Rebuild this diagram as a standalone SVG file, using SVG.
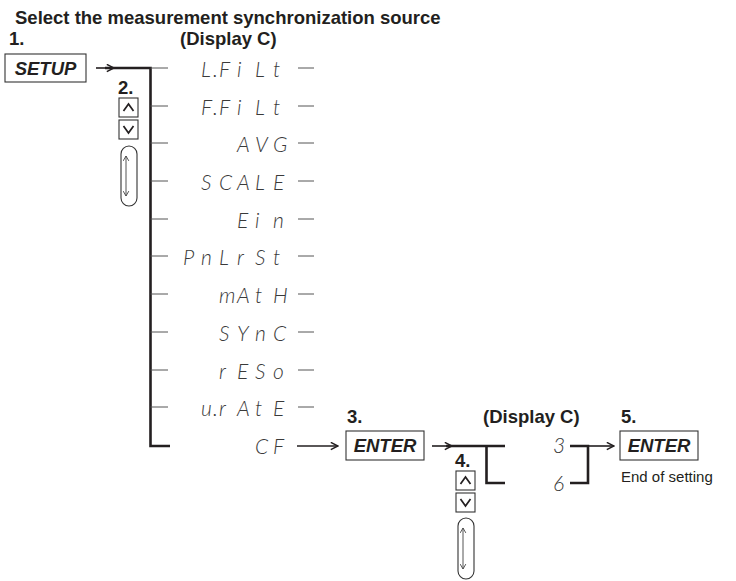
<svg xmlns="http://www.w3.org/2000/svg" width="736" height="581" viewBox="0 0 736 581">
<style>
.b{font-family:"Liberation Sans",Arial,sans-serif;font-weight:bold;fill:#231f20}
.lbl{font-size:18.5px}
.key{font-size:18.5px;font-style:italic;text-anchor:middle}
.reg{font-family:"Liberation Sans",Arial,sans-serif;font-size:15px;fill:#231f20}
.seg{font-family:Lato,Roboto,"Liberation Sans",sans-serif;font-weight:300;font-style:italic;font-size:21px;fill:#3a3a3a}
.box{fill:#fff;stroke:#333;stroke-width:1.1}
.thick{fill:none;stroke:#231f20;stroke-width:2.6}
.thin{fill:none;stroke:#555;stroke-width:1}
.arr{fill:none;stroke:#231f20;stroke-width:1.6}
.chev{fill:none;stroke:#231f20;stroke-width:1.7}
.loop{fill:#fff;stroke:#333;stroke-width:1.1}
.dbl{fill:none;stroke:#555;stroke-width:1}
</style>
<defs>
<marker id="ah" viewBox="0 0 10 10" refX="9" refY="5" markerWidth="9" markerHeight="9" markerUnits="userSpaceOnUse" orient="auto">
<polyline points="1,1 9,5 1,9" fill="none" stroke="#231f20" stroke-width="1.7"/>
</marker>
<marker id="sh" viewBox="0 0 10 10" refX="9" refY="5" markerWidth="7" markerHeight="7" markerUnits="userSpaceOnUse" orient="auto-start-reverse">
<polyline points="2,1 9,5 2,9" fill="none" stroke="#444" stroke-width="1.3"/>
</marker>
</defs>

<g id="title"><text class="b lbl" x="15" y="24">Select the measurement synchronization source</text></g>

<g id="step1">
<text class="b lbl" x="9" y="45">1.</text>
<rect class="box" x="5" y="54" width="81" height="28"/>
<text class="b key" x="45.5" y="74.5">SETUP</text>
</g>

<g id="display-c-1"><text class="b lbl" x="180" y="45">(Display C)</text></g>

<g id="step2">
<text class="b lbl" x="118" y="94">2.</text>
<rect class="box" x="119" y="98" width="19" height="19"/>
<polyline class="chev" points="123.5,111 128.5,104 133.5,111"/>
<rect class="box" x="119" y="120" width="19" height="19"/>
<polyline class="chev" points="123.5,126 128.5,133 133.5,126"/>
<rect class="loop" x="121" y="146" width="16" height="60" rx="8"/>
<line class="dbl" x1="126" y1="156" x2="126" y2="196" marker-start="url(#sh)" marker-end="url(#sh)"/>
</g>

<g id="menu-items">
<g id="item-lfilt"><text class="seg" x="201 213 219 237 255 273" y="77">L.FiLt</text></g>
<g id="item-ffilt"><text class="seg" x="201 213 219 237 255 273" y="115">F.FiLt</text></g>
<g id="item-avg"><text class="seg" x="237 255 273" y="152">AVG</text></g>
<g id="item-scale"><text class="seg" x="201 219 237 255 273" y="190">SCALE</text></g>
<g id="item-ein"><text class="seg" x="237 255 273" y="228">Ein</text></g>
<g id="item-pnlrst"><text class="seg" x="183 201 219 237 255 273" y="265">PnLrSt</text></g>
<g id="item-math"><text class="seg" x="219 237 255 273" y="303">mAtH</text></g>
<g id="item-sync"><text class="seg" x="219 237 255 273" y="341">SYnC</text></g>
<g id="item-reso"><text class="seg" x="219 237 255 273" y="379">rESo</text></g>
<g id="item-urate"><text class="seg" x="201 213 219 237 255 273" y="416">u.rAtE</text></g>
<g id="item-cf"><text class="seg" x="255 273" y="454">CF</text></g>
</g>

<g id="step3">
<text class="b lbl" x="347" y="423">3.</text>
<rect class="box" x="346" y="431" width="78" height="29"/>
<text class="b key" x="385" y="452">ENTER</text>
</g>

<g id="display-c-2"><text class="b lbl" x="483" y="423">(Display C)</text></g>

<g id="step4">
<text class="b lbl" x="455" y="467">4.</text>
<rect class="box" x="456" y="471" width="19" height="19"/>
<polyline class="chev" points="460.5,484 465.5,477 470.5,484"/>
<rect class="box" x="456" y="493" width="19" height="19"/>
<polyline class="chev" points="460.5,499 465.5,506 470.5,499"/>
<rect class="loop" x="458" y="518" width="16" height="61" rx="8"/>
<line class="dbl" x1="463" y1="528" x2="463" y2="569" marker-start="url(#sh)" marker-end="url(#sh)"/>
</g>

<g id="option-3"><text class="seg" x="553" y="453">3</text></g>
<g id="option-6"><text class="seg" x="553" y="491">6</text></g>

<g id="step5">
<text class="b lbl" x="621" y="423">5.</text>
<rect class="box" x="620" y="431" width="78" height="29"/>
<text class="b key" x="659" y="452">ENTER</text>
<text class="reg" x="621" y="482">End of setting</text>
</g>

<g id="connectors">
<line class="arr" x1="96" y1="68" x2="114" y2="68" marker-end="url(#ah)"/>
<polyline class="thick" points="105,68 150.5,68 150.5,446 170,446"/>
<g class="thin">
<line x1="150.5" y1="68" x2="168" y2="68"/>
<line x1="150.5" y1="106" x2="168" y2="106"/>
<line x1="150.5" y1="143" x2="168" y2="143"/>
<line x1="150.5" y1="181" x2="168" y2="181"/>
<line x1="150.5" y1="219" x2="168" y2="219"/>
<line x1="150.5" y1="256" x2="168" y2="256"/>
<line x1="150.5" y1="294" x2="168" y2="294"/>
<line x1="150.5" y1="332" x2="168" y2="332"/>
<line x1="150.5" y1="370" x2="168" y2="370"/>
<line x1="150.5" y1="407" x2="168" y2="407"/>
<line x1="298" y1="68" x2="314" y2="68"/>
<line x1="298" y1="106" x2="314" y2="106"/>
<line x1="298" y1="143" x2="314" y2="143"/>
<line x1="298" y1="181" x2="314" y2="181"/>
<line x1="298" y1="219" x2="314" y2="219"/>
<line x1="298" y1="256" x2="314" y2="256"/>
<line x1="298" y1="294" x2="314" y2="294"/>
<line x1="298" y1="332" x2="314" y2="332"/>
<line x1="298" y1="370" x2="314" y2="370"/>
<line x1="298" y1="407" x2="314" y2="407"/>
</g>
<line class="arr" x1="297" y1="446" x2="338" y2="446" marker-end="url(#ah)"/>
<line class="arr" x1="432" y1="446" x2="452" y2="446" marker-end="url(#ah)"/>
<polyline class="thick" points="446,446 505,446"/>
<polyline class="thick" points="486.5,446 486.5,483 505,483"/>
<polyline class="thick" points="570,446 588,446 588,483 570,483"/>
<line class="arr" x1="588" y1="446" x2="614" y2="446" marker-end="url(#ah)"/>
</g>
</svg>
